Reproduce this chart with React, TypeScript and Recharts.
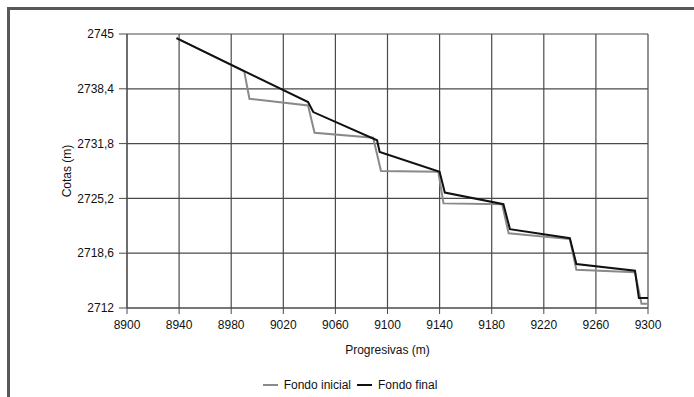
import React from 'react';
import { LineChart, Line, XAxis, YAxis, CartesianGrid } from 'recharts';

// Perfil longitudinal: progresiva (m) vs cota (m)
const inicialX = [8938, 8990, 8994, 9039, 9044, 9089, 9095, 9139, 9143, 9188, 9193, 9240, 9245, 9290, 9295, 9300];
const inicialY = [2744.5, 2740.5, 2737.2, 2736.4, 2733.1, 2732.5, 2728.5, 2728.4, 2724.6, 2724.5, 2721.0, 2720.3, 2716.6, 2716.3, 2712.5, 2712.5];

const finalX = [8938, 9039, 9043, 9092, 9094, 9140, 9144, 9189, 9194, 9240, 9245, 9290, 9293, 9300];
const finalY = [2744.5, 2736.8, 2735.6, 2732.2, 2730.8, 2728.4, 2725.9, 2724.5, 2721.5, 2720.4, 2717.3, 2716.5, 2713.2, 2713.2];

const xTicks = [8900, 8940, 8980, 9020, 9060, 9100, 9140, 9180, 9220, 9260, 9300];
const yTicks = [2712, 2718.6, 2725.2, 2731.8, 2738.4, 2745];

const GRAY = '#8a8a8a';
const BLACK = '#111111';
const GRID = '#4a4a4a';
const FONT = '"Liberation Sans", Arial, sans-serif';

const toPoints = (xs: number[], ys: number[]) => xs.map((x, i) => ({ x, y: ys[i] }));

const inicial = toPoints(inicialX, inicialY);
const final = toPoints(finalX, finalY);

const fmtY = (v: number) => String(v).replace('.', ',');

const LegendItem = ({ color, text }: { color: string; text: string }) => (
  <span style={{ display: 'inline-flex', alignItems: 'center', marginRight: 6 }}>
    <span style={{ display: 'inline-block', width: 15, height: 2, background: color, marginRight: 6 }} />
    <span>{text}</span>
  </span>
);

export default function App() {
  return (
    <div style={{ position: 'absolute', left: 0, top: 0, width: 694, height: 397, background: '#fff', fontFamily: FONT, overflow: 'hidden' }}>
      {/* marco exterior */}
      <div
        style={{
          position: 'absolute',
          left: 7,
          top: 7,
          width: 720,
          height: 420,
          borderLeft: '3px solid #585858',
          borderTop: '3px solid #585858',
        }}
      />
      <div style={{ position: 'absolute', left: 0, top: 0 }}>
        <LineChart width={694} height={397} margin={{ top: 34, right: 46, bottom: 43, left: 0 }}>
          <CartesianGrid stroke={GRID} strokeWidth={1.2} />
          <XAxis
            type="number"
            dataKey="x"
            domain={[8900, 9300]}
            ticks={xTicks}
            interval={0}
            allowDataOverflow
            height={46}
            tickSize={6}
            tickMargin={6}
            stroke={GRID}
            tick={{ fill: '#111', fontSize: 12, fontFamily: FONT }}
            label={{ value: 'Progresivas (m)', position: 'insideBottom', offset: 0, fill: '#111', fontSize: 12, fontFamily: FONT }}
          />
          <YAxis
            type="number"
            dataKey="y"
            domain={[2712, 2745]}
            ticks={yTicks}
            interval={0}
            allowDataOverflow
            width={127}
            tickSize={8}
            tickMargin={5}
            stroke={GRID}
            tickFormatter={fmtY}
            tick={{ fill: '#111', fontSize: 12, fontFamily: FONT }}
            label={{ value: 'Cotas (m)', angle: -90, position: 'center', dx: 3, fill: '#111', fontSize: 12, fontFamily: FONT }}
          />
          <Line data={inicial} dataKey="y" type="linear" stroke={GRAY} strokeWidth={2} dot={false} isAnimationActive={false} />
          <Line data={final} dataKey="y" type="linear" stroke={BLACK} strokeWidth={2} dot={false} isAnimationActive={false} />
        </LineChart>
      </div>
      <div
        style={{
          position: 'absolute',
          left: 0,
          width: 694,
          top: 375,
          textAlign: 'center',
          fontSize: 12,
          color: '#111',
          paddingLeft: 12,
          boxSizing: 'border-box',
        }}
      >
        <LegendItem color={GRAY} text="Fondo inicial" />
        <LegendItem color={BLACK} text="Fondo final" />
      </div>
    </div>
  );
}
